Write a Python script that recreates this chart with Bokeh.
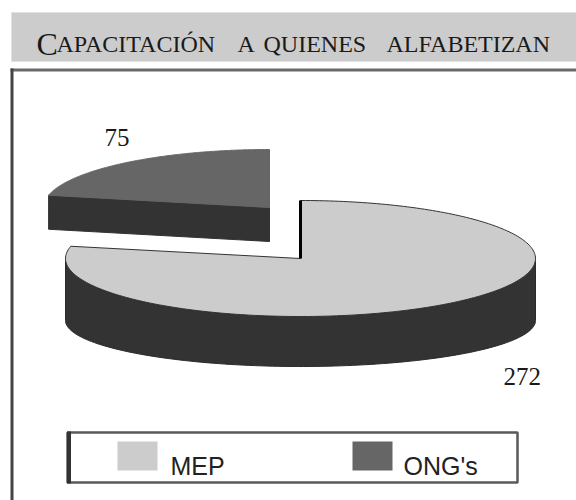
import numpy as np
from bokeh.plotting import figure
from bokeh.models import Range1d
from bokeh.core.properties import value
from bokeh.embed import file_html
from bokeh.resources import INLINE

# ---------------- data ----------------
categories = ["MEP", "ONG's"]
values = [272, 75]
value_labels = ["272", "75"]
title_parts = ["C", "APACITACIÓN", "A", "QUIENES", "ALFABETIZAN"]

# ---------------- style / layout ----------------
top_colors = ["#cccccc", "#666666"]
side_color = "#333333"
serif = value("Liberation Serif")
sans = value("Liberation Sans")

# slice geometry (screen-like coordinates, y downward)
centers = [(300, 258), (269, 207)]   # second one = exploded slice
rxs = [235, 226]
rys = [58, 58]
depths = [62, 34]
rybs = [46, 58]

W, H = 576, 500
p = figure(width=W, height=H,
           x_range=Range1d(0, W), y_range=Range1d(H, 0),
           output_backend="svg", toolbar_location=None,
           x_axis_type=None, y_axis_type=None, min_border=0,
           outline_line_color=None, background_fill_color="white",
           border_fill_color="white")

# ---------------- title bar ----------------
p.quad(left=[11], right=[590], top=[12], bottom=[61],
       fill_color="#cccccc", line_color="#e2e2e2", line_width=1)
title_x = [36, 56, 237, 263, 386]
title_sizes = ["32px", "24px", "24px", "24px", "24px"]
for t, x, s in zip(title_parts, title_x, title_sizes):
    p.text(x=[x], y=[43], text=[t], text_font=serif, text_font_size=s,
           text_color="#1a1a1a", text_baseline="alphabetic", text_align="left")

# ---------------- frame ----------------
p.segment(x0=[10], y0=[69.5], x1=[590], y1=[69.5], line_color="#6a6a6a", line_width=3)
p.segment(x0=[11.5], y0=[68], x1=[11.5], y1=[520], line_color="#444444", line_width=3)

# ---------------- pie geometry from values ----------------
total = float(sum(values))
spans = [v / total * 360.0 for v in values]
# counterclockwise from 90 deg: ONG's first, then MEP
a_ong0 = 90.0
a_ong1 = a_ong0 + spans[1]
angles = [(a_ong1, 450.0), (a_ong0, a_ong1)]


def top_pt(i, a):
    cx, cy = centers[i]
    r = np.radians(a)
    return cx + rxs[i] * np.cos(r), cy - rys[i] * np.sin(r)


def bot_pt(i, a):
    cx, cy = centers[i]
    r = np.radians(a)
    return cx + rxs[i] * np.cos(r), cy + depths[i] - rybs[i] * np.sin(r)


def arc(i, a0, a1, fn, n=120):
    t = np.linspace(a0, a1, n)
    pts = [fn(i, a) for a in t]
    return [q[0] for q in pts], [q[1] for q in pts]


# draw order: big slice first, exploded slice after
for i in [0, 1]:
    a0, a1 = angles[i]
    cx, cy = centers[i]
    # front rim (visible where sin < 0)
    for k in range(-1, 2):
        lo = max(a0, 180 + 360 * k)
        hi = min(a1, 360 + 360 * k)
        if hi > lo:
            tx, ty = arc(i, lo, hi, top_pt)
            bx, by = arc(i, lo, hi, bot_pt)
            p.patch(tx + bx[::-1], ty + by[::-1], fill_color=side_color,
                    line_color="#2a2a2a", line_width=1)
    # radial face at end edge (visible if cos(a1) < 0)
    if np.cos(np.radians(a1)) < -1e-6:
        tx, ty = top_pt(i, a1)
        bx, by = bot_pt(i, a1)
        p.patch([cx, tx, bx, cx], [cy, ty, by, cy + depths[i]],
                fill_color=side_color, line_color=side_color, line_width=1)
    # radial face at start edge (visible if cos(a0) > 0)
    if np.cos(np.radians(a0)) > 1e-6:
        tx, ty = top_pt(i, a0)
        bx, by = bot_pt(i, a0)
        p.patch([cx, tx, bx, cx], [cy, ty, by, cy + depths[i]],
                fill_color=side_color, line_color=side_color, line_width=1)
    # top face
    ax, ay = arc(i, a0, a1, top_pt, 240)
    p.patch([cx] + ax + [cx], [cy] + ay + [cy], fill_color=top_colors[i],
            line_color="#333333" if i == 0 else top_colors[i], line_width=1)
    # edge-on radial face at 90 deg of the big slice
    if i == 0:
        ex, ey = top_pt(i, a1)
        p.segment(x0=[cx], y0=[cy], x1=[ex], y1=[ey], line_color="black", line_width=3)

# value labels
p.text(x=[503, 104], y=[376, 137], text=value_labels, text_font=serif,
       text_font_size="25px", text_color="#1a1a1a", text_baseline="alphabetic",
       text_align="left")

# ---------------- legend ----------------
p.quad(left=[67], right=[517], top=[432], bottom=[482], fill_color="white",
       line_color="#5a5a5a", line_width=2.5)
p.segment(x0=[68.5], y0=[431], x1=[68.5], y1=[483], line_color="#333333", line_width=4)
sw_left = [117, 352]
p.quad(left=sw_left, right=[s + 40 for s in sw_left], top=[441, 441], bottom=[470, 470],
       fill_color=top_colors, line_color=None)
p.text(x=[170, 403], y=[465, 465], text=categories, text_font=sans,
       text_font_size="25px", text_color="#222222", text_baseline="alphabetic",
       text_align="left")

open("out.html", "w").write(file_html(p, INLINE))
